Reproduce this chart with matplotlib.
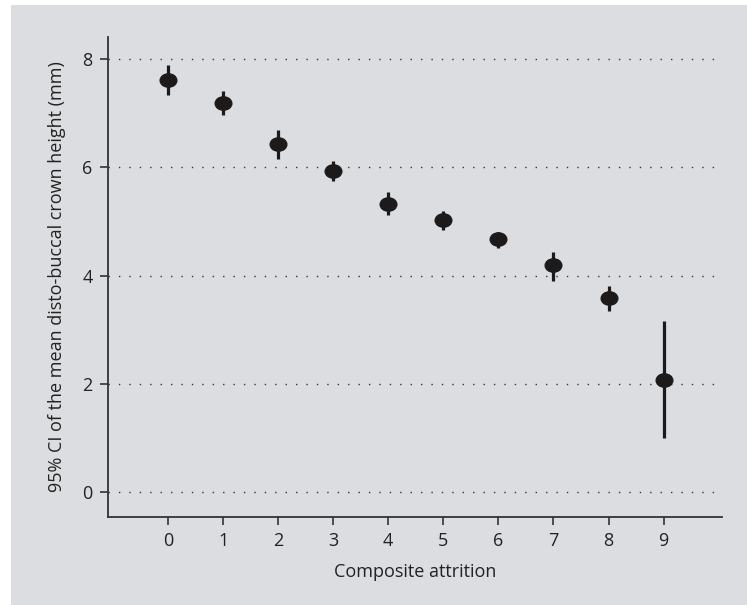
import matplotlib.pyplot as plt
from matplotlib.path import Path
from matplotlib.patches import Rectangle
from matplotlib.transforms import Affine2D

plt.rcParams['font.family'] = ['Open Sans', 'DejaVu Sans']

attrition = [0, 1, 2, 3, 4, 5, 6, 7, 8, 9]
mean_height = [7.61, 7.19, 6.43, 5.94, 5.33, 5.02, 4.67, 4.19, 3.59, 2.07]
ci_upper = [7.89, 7.41, 6.70, 6.11, 5.54, 5.19, 4.81, 4.44, 3.81, 3.17]
ci_lower = [7.33, 6.96, 6.15, 5.74, 5.13, 4.85, 4.52, 3.91, 3.35, 1.00]

bg = '#dcdde0'
ink = '#1c1a1b'
fs = 13

fig = plt.figure(figsize=(7.47, 6.05), dpi=100, facecolor='white')
# grey panel behind everything (thin white margin at top/left)
fig.patches.append(Rectangle((11 / 747, 0), 1, 1 - 5 / 605, transform=fig.transFigure,
                             facecolor=bg, edgecolor='none', zorder=-10))
ax = fig.add_axes([0.1446, 0.1455, 0.8219, 0.7933])
ax.set_facecolor(bg)

for y in [0, 2, 4, 6, 8]:
    ax.axhline(y, color='#333333', lw=1.0, ls=(0, (1, 6.5)), zorder=1)

# error bars
ax.vlines(attrition, ci_lower, ci_upper, color=ink, lw=2.3, zorder=2)

oval = Path.unit_circle().transformed(Affine2D().scale(1, 0.8))
ax.plot(attrition, mean_height, ls='none', marker=oval, ms=12, color=ink, zorder=3)

ax.set_xlim(-1.09, 10.06)
ax.set_ylim(-0.46, 8.41)
ax.set_xticks(attrition)
ax.set_yticks([0, 2, 4, 6, 8])

for s in ['top', 'right']:
    ax.spines[s].set_visible(False)
for s in ['left', 'bottom']:
    ax.spines[s].set_color('#333333')
    ax.spines[s].set_linewidth(1.3)

ax.tick_params(colors='#333333', labelcolor='#222222', labelsize=fs, length=6, width=1.2, pad=5)
ax.set_xlabel('Composite attrition', fontsize=fs, color='#222222', labelpad=9)
ax.set_ylabel('95% CI of the mean disto-buccal crown height (mm)', fontsize=fs,
              color='#222222', labelpad=12)

fig.savefig('out.png', dpi=100, facecolor=fig.get_facecolor())
